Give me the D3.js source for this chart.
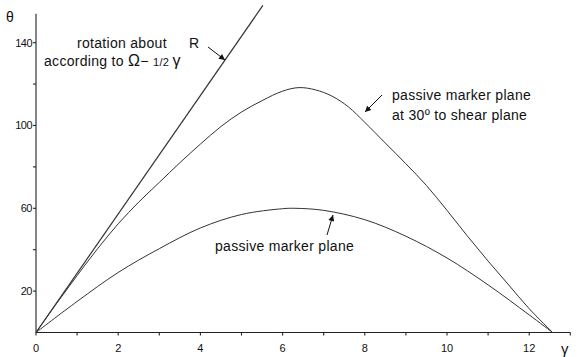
<!DOCTYPE html>
<html>
<head>
<meta charset="utf-8">
<script src="https://cdn.jsdelivr.net/npm/d3@7"></script>
<style>
  body { margin: 0; background: #fff; }
  svg text { font-family: "Liberation Sans", Arial, sans-serif; fill: #111; }
</style>
</head>
<body>
<div id="chart"></div>
<script>
// values (gamma = shear strain, theta in degrees)
const rigidGamma = [0, 5.52]
const rigidTheta = [0, 158]

const plane30Gamma = [0, 0.5, 1, 1.5, 2, 2.5, 3, 3.5, 4, 4.5, 5, 5.5, 6, 6.4, 6.8, 7.2, 7.6, 8, 8.5, 9, 9.5, 10, 10.5, 11, 11.5, 12, 12.57]
const plane30Theta = [0, 14, 27.5, 40.5, 52.5, 63, 72.5, 82, 91, 99.5, 106.5, 112, 116.6, 118.3, 117.2, 114.2, 109, 101.5, 91.5, 81.5, 71, 59, 46.5, 34.5, 23, 11.5, 0]

const planeGamma = [0, 1, 2, 3, 4, 5, 6, 6.3, 7, 8, 9, 10, 11, 12, 12.57]
const planeTheta = [0, 15, 29, 40.5, 50.5, 57, 59.8, 60, 59, 54.5, 46.5, 36, 23, 8.5, 0]

const xTicks = [0, 1, 2, 3, 4, 5, 6, 7, 8, 9, 10, 11, 12, 13]
const xLabels = [0, 2, 4, 6, 8, 10, 12]
const yTicks = [20, 40, 60, 80, 100, 120, 140]
const yLabels = [20, 60, 100, 140]

const width = 578, height = 357

const x = d3.scaleLinear().domain([0, 13]).range([36, 570.3])
const y = d3.scaleLinear().domain([0, 154]).range([332.5, 13.7])

const svg = d3.select("#chart").append("svg")
  .attr("width", width)
  .attr("height", height)

svg.append("defs").append("marker")
  .attr("id", "arrow")
  .attr("viewBox", "0 -5 10 10")
  .attr("refX", 10)
  .attr("refY", 0)
  .attr("markerWidth", 7)
  .attr("markerHeight", 6)
  .attr("markerUnits", "userSpaceOnUse")
  .attr("orient", "auto")
  .append("path")
  .attr("d", "M0,-5L10,0L0,5Z")
  .attr("fill", "#111")

// axes
const axes = svg.append("g").attr("stroke", "#222").attr("stroke-width", 1.1)
axes.append("line").attr("x1", x(0)).attr("x2", x(13)).attr("y1", y(0)).attr("y2", y(0))
axes.append("line").attr("x1", x(0)).attr("x2", x(0)).attr("y1", y(0)).attr("y2", y(154))

axes.selectAll(".xt").data(xTicks).join("line")
  .attr("x1", d => x(d)).attr("x2", d => x(d))
  .attr("y1", y(0)).attr("y2", y(0) + 3)

axes.selectAll(".yt").data(yTicks).join("line")
  .attr("x1", x(0) - 3).attr("x2", x(0))
  .attr("y1", d => y(d)).attr("y2", d => y(d))

svg.selectAll(".xl").data(xLabels).join("text")
  .attr("x", d => x(d))
  .attr("y", y(0) + 19)
  .attr("text-anchor", "middle")
  .style("font-size", "11px")
  .text(d => d)

svg.selectAll(".yl").data(yLabels).join("text")
  .attr("x", x(0) - 4)
  .attr("y", d => y(d) + 4)
  .attr("text-anchor", "end")
  .style("font-size", "11px")
  .style("letter-spacing", "-0.5px")
  .text(d => d)

svg.append("text").attr("x", 6).attr("y", 22).style("font-size", "14px").text("θ")
svg.append("text").attr("x", 561).attr("y", 354).style("font-size", "15px").text("γ")

// curves
const line = d3.line().x(d => x(d[0])).y(d => y(d[1])).curve(d3.curveCatmullRom.alpha(0.5))

const series = [
  { g: rigidGamma, t: rigidTheta, w: 1.2 },
  { g: plane30Gamma, t: plane30Theta, w: 1 },
  { g: planeGamma, t: planeTheta, w: 1 }
]

svg.append("g").selectAll("path").data(series).join("path")
  .attr("d", s => line(s.g.map((g, i) => [g, s.t[i]])))
  .attr("fill", "none")
  .attr("stroke", "#333")
  .attr("stroke-width", s => s.w)

// annotations
const label = (tx, ty, str, size) => svg.append("text")
  .attr("x", tx).attr("y", ty)
  .style("font-size", size + "px")
  .style("letter-spacing", "0.3px")
  .text(str)

label(77, 48, "rotation about", 14)
label(189, 48, "R", 14)
const acc = svg.append("text").attr("x", 44).attr("y", 66).style("font-size", "14px").style("letter-spacing", "0.3px")
acc.append("tspan").text("according to ")
acc.append("tspan").style("font-size", "16px").text("Ω")
acc.append("tspan").text("− ")
acc.append("tspan").style("font-size", "11px").text("1/2 ")
acc.append("tspan").style("font-size", "16px").text("γ")

label(392, 100, "passive marker plane", 14)
label(392, 120, "at 30º to shear plane", 14)
label(215, 251, "passive marker plane", 14)

const arrows = [
  [208, 47, 225, 60],
  [382, 95, 365, 112],
  [327, 235, 333, 215]
]
svg.append("g").selectAll("line").data(arrows).join("line")
  .attr("x1", d => d[0]).attr("y1", d => d[1])
  .attr("x2", d => d[2]).attr("y2", d => d[3])
  .attr("stroke", "#111")
  .attr("stroke-width", 1)
  .attr("marker-end", "url(#arrow)")
</script>
</body>
</html>
